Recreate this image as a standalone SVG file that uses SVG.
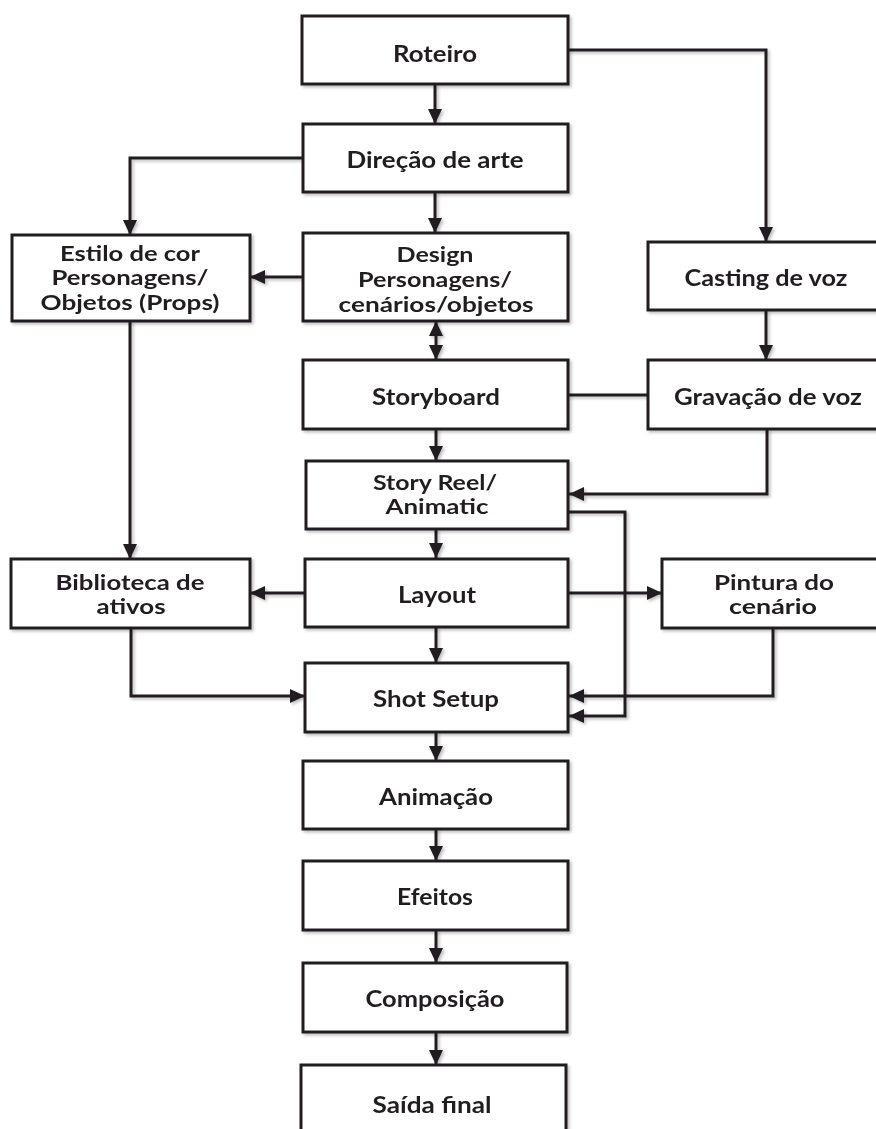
<svg xmlns="http://www.w3.org/2000/svg" width="876" height="1129" viewBox="0 0 876 1129">
<defs>
<marker id="ah" viewBox="0 0 15 14" refX="15" refY="7" markerWidth="15" markerHeight="14" markerUnits="userSpaceOnUse" orient="auto-start-reverse"><path d="M0,0 L15,7 L0,14 z" fill="#231f20"/></marker>
<filter id="sh" x="-10%" y="-10%" width="130%" height="130%"><feDropShadow dx="2" dy="2" stdDeviation="1.5" flood-color="#000" flood-opacity="0.25"/></filter>
</defs>
<style>
.box{fill:#fff;stroke:#231f20;stroke-width:3}
.t{font-family:Lato,"Open Sans","Liberation Sans",sans-serif;font-weight:bold;font-size:22px;fill:#231f20;text-anchor:middle}
.m{font-size:21px}
.c{fill:none;stroke:#231f20;stroke-width:3}
.a{marker-end:url(#ah)}
</style>
<rect width="876" height="1129" fill="#fff"/>
<g id="connectors" filter="url(#sh)">
<path class="c a" d="M435,84 V124"/>
<path class="c a" d="M568,50 H766 V242"/>
<path class="c a" d="M303,158 H130 V235"/>
<path class="c a" d="M435,192 V233"/>
<path class="c a" d="M303,277 H250"/>
<path class="c a" d="M436,321 V360" style="marker-start:url(#ah)"/>
<path class="c a" d="M766,310 V360"/>
<path class="c" d="M568,395 H648"/>
<path class="c a" d="M436,429 V461"/>
<path class="c a" d="M767,429 V494 H569"/>
<path class="c a" d="M568,512 H625 V716 H569"/>
<path class="c a" d="M436,529 V558"/>
<path class="c a" d="M130,321 V559"/>
<path class="c a" d="M305,593 H250"/>
<path class="c a" d="M568,593 H662"/>
<path class="c a" d="M436,627 V663"/>
<path class="c a" d="M131,628 V696 H305"/>
<path class="c a" d="M773,628 V696 H569"/>
<path class="c a" d="M436,732 V761"/>
<path class="c a" d="M436,829 V861"/>
<path class="c a" d="M436,930 V963"/>
<path class="c a" d="M436,1032 V1065"/>
</g>
<g id="n-roteiro" filter="url(#sh)"><rect class="box" x="302" y="16" width="266" height="68"/><text class="t" x="435" y="62" textLength="84" lengthAdjust="spacingAndGlyphs">Roteiro</text></g>
<g id="n-direcao" filter="url(#sh)"><rect class="box" x="303" y="124" width="265" height="68"/><text class="t" x="435" y="168" textLength="177" lengthAdjust="spacingAndGlyphs">Direção de arte</text></g>
<g id="n-design" filter="url(#sh)"><rect class="box" x="303" y="233" width="265" height="88"/><text class="t m" x="435" y="262" textLength="77" lengthAdjust="spacingAndGlyphs">Design</text><text class="t m" x="435" y="287" textLength="154" lengthAdjust="spacingAndGlyphs">Personagens/</text><text class="t m" x="436" y="312" textLength="195" lengthAdjust="spacingAndGlyphs">cenários/objetos</text></g>
<g id="n-estilo" filter="url(#sh)"><rect class="box" x="12" y="235" width="238" height="86"/><text class="t m" x="130" y="261" textLength="140" lengthAdjust="spacingAndGlyphs">Estilo de cor</text><text class="t m" x="130" y="285" textLength="157" lengthAdjust="spacingAndGlyphs">Personagens/</text><text class="t m" x="130" y="310" textLength="179" lengthAdjust="spacingAndGlyphs">Objetos (Props)</text></g>
<g id="n-casting" filter="url(#sh)"><rect class="box" x="648" y="242" width="240" height="68"/><text class="t" x="766" y="286" textLength="163" lengthAdjust="spacingAndGlyphs">Casting de voz</text></g>
<g id="n-storyboard" filter="url(#sh)"><rect class="box" x="303" y="360" width="265" height="69"/><text class="t" x="436" y="405" textLength="128" lengthAdjust="spacingAndGlyphs">Storyboard</text></g>
<g id="n-gravacao" filter="url(#sh)"><rect class="box" x="648" y="360" width="240" height="69"/><text class="t" x="768" y="405" textLength="188" lengthAdjust="spacingAndGlyphs">Gravação de voz</text></g>
<g id="n-storyreel" filter="url(#sh)"><rect class="box" x="306" y="461" width="262" height="68"/><text class="t m" x="435" y="490" textLength="124" lengthAdjust="spacingAndGlyphs">Story Reel/</text><text class="t m" x="437" y="514" textLength="103" lengthAdjust="spacingAndGlyphs">Animatic</text></g>
<g id="n-biblioteca" filter="url(#sh)"><rect class="box" x="11" y="559" width="239" height="69"/><text class="t m" x="130" y="590" textLength="149" lengthAdjust="spacingAndGlyphs">Biblioteca de</text><text class="t m" x="131" y="614" textLength="69" lengthAdjust="spacingAndGlyphs">ativos</text></g>
<g id="n-layout" filter="url(#sh)"><rect class="box" x="305" y="559" width="263" height="68"/><text class="t" x="437" y="603" textLength="78" lengthAdjust="spacingAndGlyphs">Layout</text></g>
<g id="n-pintura" filter="url(#sh)"><rect class="box" x="662" y="559" width="226" height="69"/><text class="t m" x="774" y="590" textLength="120" lengthAdjust="spacingAndGlyphs">Pintura do</text><text class="t m" x="773" y="614" textLength="88" lengthAdjust="spacingAndGlyphs">cenário</text></g>
<g id="n-shotsetup" filter="url(#sh)"><rect class="box" x="305" y="663" width="263" height="69"/><text class="t" x="436" y="707" textLength="126" lengthAdjust="spacingAndGlyphs">Shot Setup</text></g>
<g id="n-animacao" filter="url(#sh)"><rect class="box" x="303" y="761" width="265" height="68"/><text class="t" x="436" y="805" textLength="114" lengthAdjust="spacingAndGlyphs">Animação</text></g>
<g id="n-efeitos" filter="url(#sh)"><rect class="box" x="303" y="861" width="265" height="69"/><text class="t" x="435" y="905" textLength="76" lengthAdjust="spacingAndGlyphs">Efeitos</text></g>
<g id="n-composicao" filter="url(#sh)"><rect class="box" x="303" y="963" width="264" height="69"/><text class="t" x="435" y="1007" textLength="139" lengthAdjust="spacingAndGlyphs">Composição</text></g>
<g id="n-saida" filter="url(#sh)"><rect class="box" x="301" y="1065" width="265" height="80"/><text class="t" x="432" y="1113" textLength="119" lengthAdjust="spacingAndGlyphs">Saída final</text></g>
</svg>
